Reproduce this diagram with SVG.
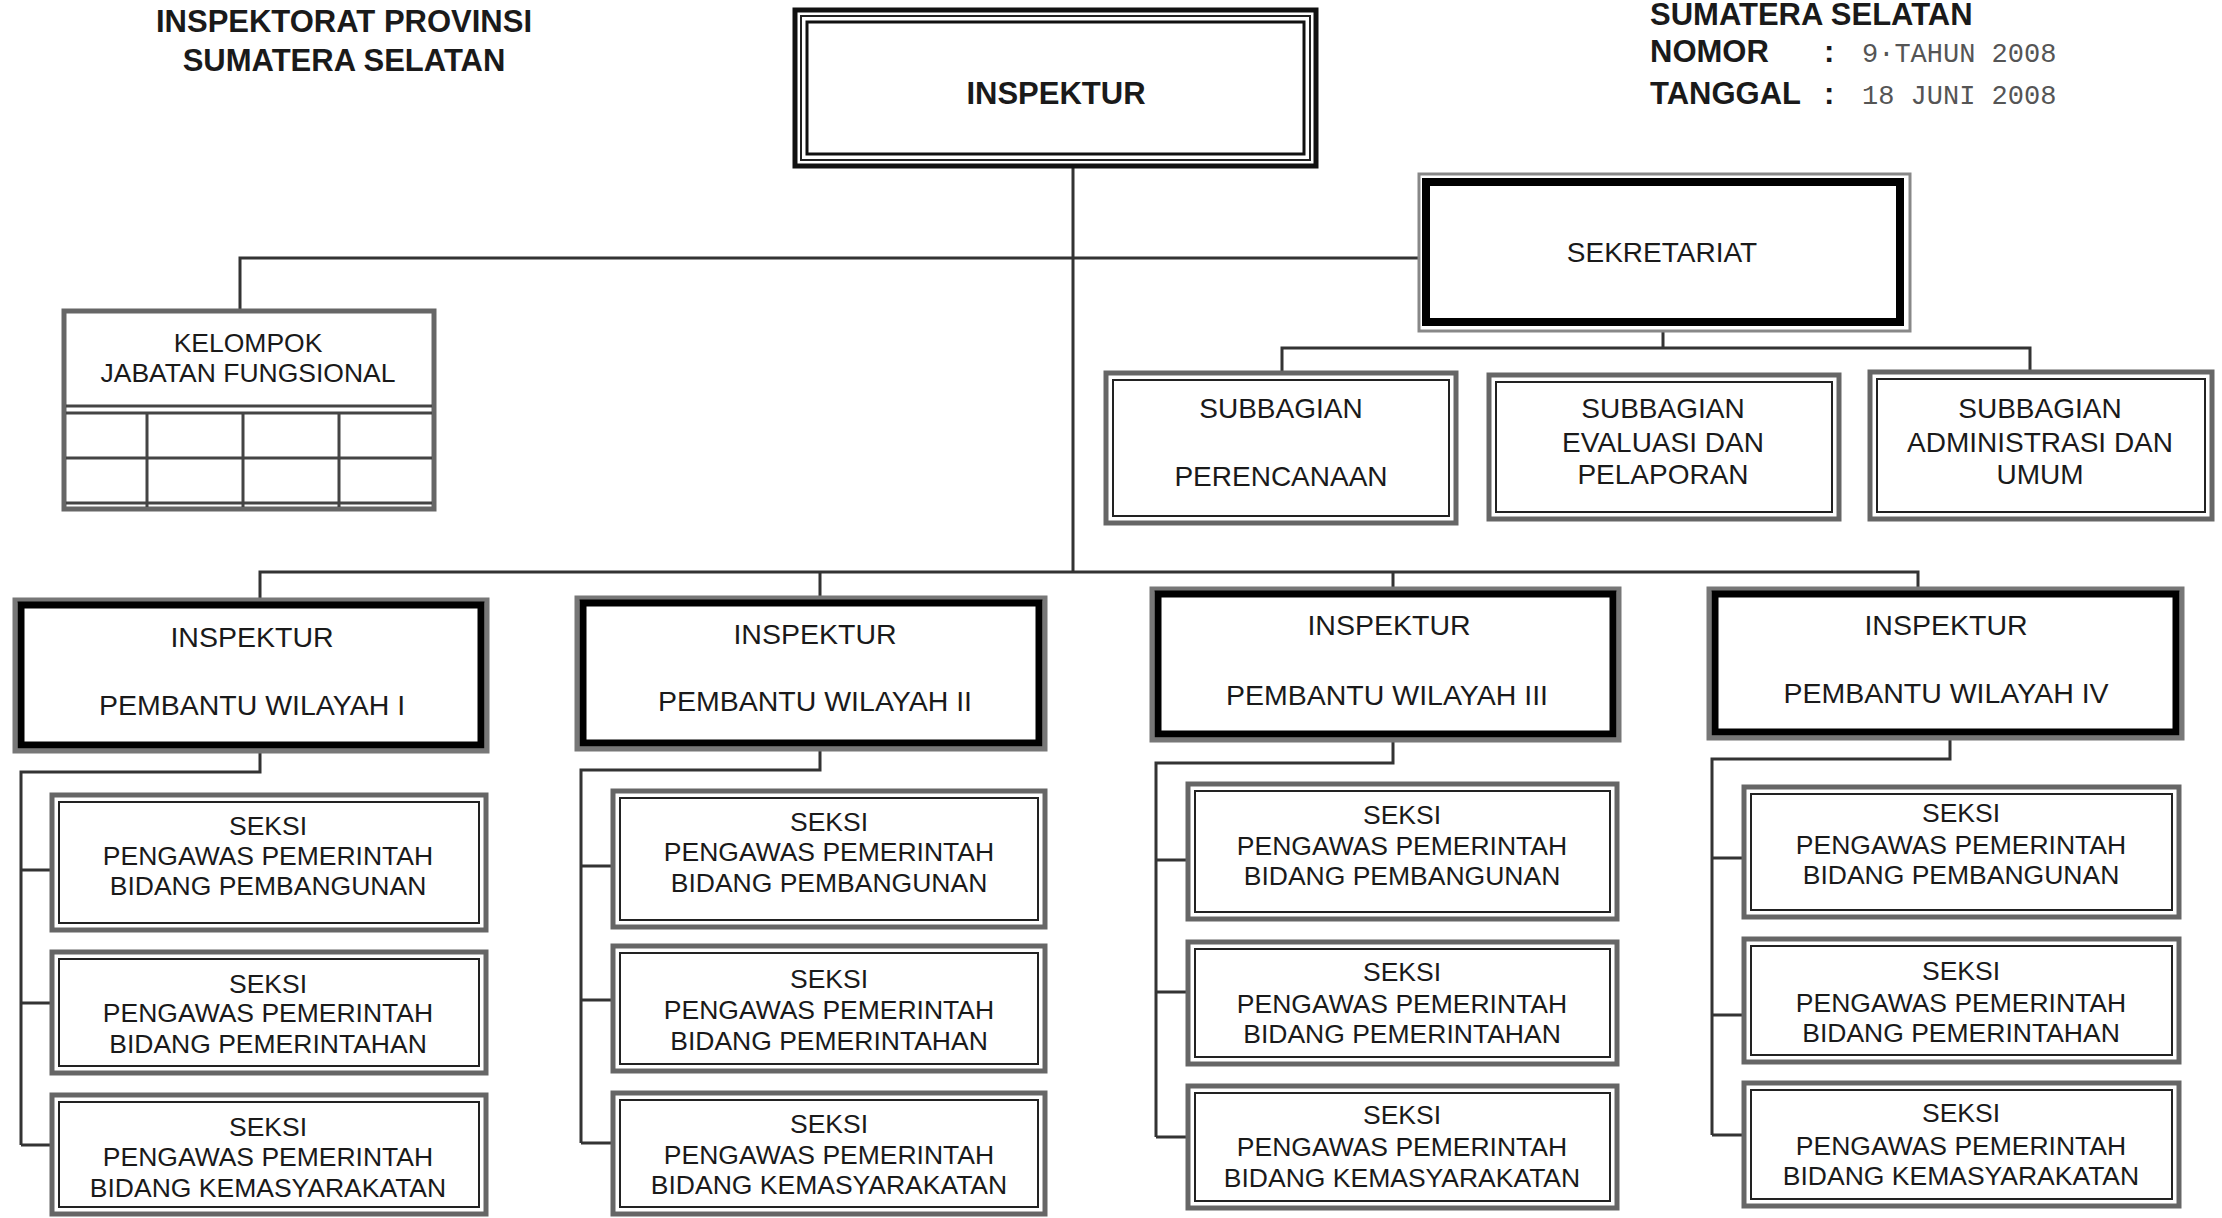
<svg xmlns="http://www.w3.org/2000/svg" width="2222" height="1218" viewBox="0 0 2222 1218">
<style>
text{font-family:"Liberation Sans",Arial,sans-serif;fill:#1a1a1a;text-anchor:middle}
.b{font-weight:bold;font-size:31px}
.l{text-anchor:start}
.m{font-family:"Liberation Mono","Courier New",monospace;font-size:27px;fill:#555;text-anchor:start}
.kt{font-size:26.5px}
.st{font-size:28px}
.pt{font-size:28.5px}
.xt{font-size:26.5px}
.ln{fill:none;stroke:#333;stroke-width:3}
.go{fill:#fff;stroke:#777;stroke-width:5}
.bi{fill:none;stroke:#000;stroke-width:7}
.so{fill:#fff;stroke:#666;stroke-width:5}
.si{fill:none;stroke:#222;stroke-width:2}
.grid{fill:none;stroke:#444;stroke-width:3}
</style>
<rect width="2222" height="1218" fill="#fff"/>

<g id="connectors">
<path class="ln" d="M1073,168 V572"/>
<path class="ln" d="M240,309 V258 H1420"/>
<path class="ln" d="M1663,331 V348 M1282,371 V348 H2030 V370"/>
<path class="ln" d="M260,598 V572 H1918 V587 M820,572 V596 M1393,572 V587"/>
<path class="ln" d="M260,753 V772 H21 V1145 M21,870 H50 M21,1003 H50 M21,1145 H50"/>
<path class="ln" d="M820,751 V770 H581 V1143 M581,866 H611 M581,1000 H611 M581,1143 H611"/>
<path class="ln" d="M1393,742 V763 H1156 V1137 M1156,860 H1186 M1156,992 H1186 M1156,1137 H1186"/>
<path class="ln" d="M1950,740 V759 H1712 V1135 M1712,858 H1742 M1712,1015 H1742 M1712,1135 H1742"/>
</g>

<g id="title">
<text class="b" x="344" y="32">INSPEKTORAT PROVINSI</text>
<text class="b" x="344" y="71">SUMATERA SELATAN</text>
</g>

<g id="header-right">
<text class="b l" x="1650" y="25">SUMATERA SELATAN</text>
<text class="b l" x="1650" y="62">NOMOR</text>
<text class="b l" x="1824" y="62">:</text>
<text class="m" x="1862" y="62">9·TAHUN 2008</text>
<text class="b l" x="1650" y="104">TANGGAL</text>
<text class="b l" x="1824" y="104">:</text>
<text class="m" x="1862" y="104">18 JUNI 2008</text>
</g>

<g id="inspektur">
<rect x="795" y="10" width="521" height="156" fill="#fff" stroke="#111" stroke-width="5"/>
<rect x="801" y="16" width="509" height="144" fill="none" stroke="#222" stroke-width="2"/>
<rect x="807" y="22" width="497" height="132" fill="none" stroke="#111" stroke-width="3"/>
<text class="b" x="1056" y="104">INSPEKTUR</text>
</g>

<g id="kelompok">
<rect x="64" y="311" width="370" height="198" fill="#fff" stroke="#666" stroke-width="5"/>
<path class="grid" d="M66,406 H432 M66,413 H432 M66,458 H432 M66,503 H432 M147,413 V507 M243,413 V507 M339,413 V507"/>
<text class="kt" x="248" y="352">KELOMPOK</text>
<text class="kt" x="248" y="382">JABATAN FUNGSIONAL</text>
</g>

<g id="sekretariat">
<rect x="1419" y="174" width="491" height="157" fill="#fff" stroke="#888" stroke-width="3"/>
<rect x="1426" y="182" width="474" height="140" fill="none" stroke="#000" stroke-width="8"/>
<text class="st" x="1662" y="262">SEKRETARIAT</text>
</g>

<g id="sub-perencanaan">
<rect class="so" x="1106" y="373" width="350" height="150"/>
<rect class="si" x="1113" y="380" width="336" height="136"/>
<text class="st" x="1281" y="418">SUBBAGIAN</text>
<text class="st" x="1281" y="486">PERENCANAAN</text>
</g>
<g id="sub-evaluasi">
<rect class="so" x="1489" y="375" width="350" height="144"/>
<rect class="si" x="1496" y="382" width="336" height="130"/>
<text class="st" x="1663" y="418">SUBBAGIAN</text>
<text class="st" x="1663" y="452">EVALUASI DAN</text>
<text class="st" x="1663" y="484">PELAPORAN</text>
</g>
<g id="sub-administrasi">
<rect class="so" x="1870" y="372" width="342" height="147"/>
<rect class="si" x="1877" y="379" width="328" height="133"/>
<text class="st" x="2040" y="418">SUBBAGIAN</text>
<text class="st" x="2040" y="452">ADMINISTRASI DAN</text>
<text class="st" x="2040" y="484">UMUM</text>
</g>

<g id="irban-1">
<rect class="go" x="15" y="600" width="472" height="151"/>
<rect class="bi" x="21" y="605" width="460" height="140"/>
<text class="pt" x="252" y="647">INSPEKTUR</text>
<text class="pt" x="252" y="715">PEMBANTU WILAYAH I</text>
</g>
<g id="irban-2">
<rect class="go" x="577" y="598" width="468" height="151"/>
<rect class="bi" x="583" y="603" width="456" height="140"/>
<text class="pt" x="815" y="644">INSPEKTUR</text>
<text class="pt" x="815" y="711">PEMBANTU WILAYAH II</text>
</g>
<g id="irban-3">
<rect class="go" x="1152" y="589" width="467" height="151"/>
<rect class="bi" x="1158" y="594" width="455" height="140"/>
<text class="pt" x="1389" y="635">INSPEKTUR</text>
<text class="pt" x="1387" y="705">PEMBANTU WILAYAH III</text>
</g>
<g id="irban-4">
<rect class="go" x="1709" y="589" width="473" height="149"/>
<rect class="bi" x="1715" y="594" width="461" height="138"/>
<text class="pt" x="1946" y="635">INSPEKTUR</text>
<text class="pt" x="1946" y="703">PEMBANTU WILAYAH IV</text>
</g>

<g id="seksi-1a">
<rect class="so" x="52" y="795" width="434" height="135"/>
<rect class="si" x="59" y="802" width="420" height="121"/>
<text class="xt" x="268" y="835">SEKSI</text>
<text class="xt" x="268" y="865">PENGAWAS PEMERINTAH</text>
<text class="xt" x="268" y="895">BIDANG PEMBANGUNAN</text>
</g>
<g id="seksi-1b">
<rect class="so" x="52" y="952" width="434" height="121"/>
<rect class="si" x="59" y="959" width="420" height="107"/>
<text class="xt" x="268" y="993">SEKSI</text>
<text class="xt" x="268" y="1022">PENGAWAS PEMERINTAH</text>
<text class="xt" x="268" y="1053">BIDANG PEMERINTAHAN</text>
</g>
<g id="seksi-1c">
<rect class="so" x="52" y="1095" width="434" height="119"/>
<rect class="si" x="59" y="1102" width="420" height="105"/>
<text class="xt" x="268" y="1136">SEKSI</text>
<text class="xt" x="268" y="1166">PENGAWAS PEMERINTAH</text>
<text class="xt" x="268" y="1197">BIDANG KEMASYARAKATAN</text>
</g>

<g id="seksi-2a">
<rect class="so" x="613" y="791" width="432" height="136"/>
<rect class="si" x="620" y="798" width="418" height="122"/>
<text class="xt" x="829" y="831">SEKSI</text>
<text class="xt" x="829" y="861">PENGAWAS PEMERINTAH</text>
<text class="xt" x="829" y="892">BIDANG PEMBANGUNAN</text>
</g>
<g id="seksi-2b">
<rect class="so" x="613" y="946" width="432" height="125"/>
<rect class="si" x="620" y="953" width="418" height="111"/>
<text class="xt" x="829" y="988">SEKSI</text>
<text class="xt" x="829" y="1019">PENGAWAS PEMERINTAH</text>
<text class="xt" x="829" y="1050">BIDANG PEMERINTAHAN</text>
</g>
<g id="seksi-2c">
<rect class="so" x="613" y="1093" width="432" height="121"/>
<rect class="si" x="620" y="1100" width="418" height="107"/>
<text class="xt" x="829" y="1133">SEKSI</text>
<text class="xt" x="829" y="1164">PENGAWAS PEMERINTAH</text>
<text class="xt" x="829" y="1194">BIDANG KEMASYARAKATAN</text>
</g>

<g id="seksi-3a">
<rect class="so" x="1188" y="784" width="429" height="135"/>
<rect class="si" x="1195" y="791" width="415" height="121"/>
<text class="xt" x="1402" y="824">SEKSI</text>
<text class="xt" x="1402" y="855">PENGAWAS PEMERINTAH</text>
<text class="xt" x="1402" y="885">BIDANG PEMBANGUNAN</text>
</g>
<g id="seksi-3b">
<rect class="so" x="1188" y="942" width="429" height="122"/>
<rect class="si" x="1195" y="949" width="415" height="108"/>
<text class="xt" x="1402" y="981">SEKSI</text>
<text class="xt" x="1402" y="1013">PENGAWAS PEMERINTAH</text>
<text class="xt" x="1402" y="1043">BIDANG PEMERINTAHAN</text>
</g>
<g id="seksi-3c">
<rect class="so" x="1188" y="1086" width="429" height="122"/>
<rect class="si" x="1195" y="1093" width="415" height="108"/>
<text class="xt" x="1402" y="1124">SEKSI</text>
<text class="xt" x="1402" y="1156">PENGAWAS PEMERINTAH</text>
<text class="xt" x="1402" y="1187">BIDANG KEMASYARAKATAN</text>
</g>

<g id="seksi-4a">
<rect class="so" x="1744" y="787" width="435" height="130"/>
<rect class="si" x="1751" y="794" width="421" height="116"/>
<text class="xt" x="1961" y="822">SEKSI</text>
<text class="xt" x="1961" y="854">PENGAWAS PEMERINTAH</text>
<text class="xt" x="1961" y="884">BIDANG PEMBANGUNAN</text>
</g>
<g id="seksi-4b">
<rect class="so" x="1744" y="939" width="435" height="123"/>
<rect class="si" x="1751" y="946" width="421" height="109"/>
<text class="xt" x="1961" y="980">SEKSI</text>
<text class="xt" x="1961" y="1012">PENGAWAS PEMERINTAH</text>
<text class="xt" x="1961" y="1042">BIDANG PEMERINTAHAN</text>
</g>
<g id="seksi-4c">
<rect class="so" x="1744" y="1083" width="435" height="123"/>
<rect class="si" x="1751" y="1090" width="421" height="109"/>
<text class="xt" x="1961" y="1122">SEKSI</text>
<text class="xt" x="1961" y="1155">PENGAWAS PEMERINTAH</text>
<text class="xt" x="1961" y="1185">BIDANG KEMASYARAKATAN</text>
</g>
</svg>
